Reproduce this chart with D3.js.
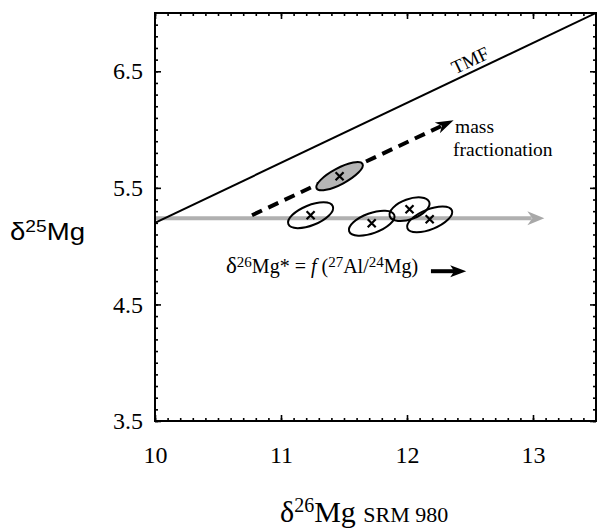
<!DOCTYPE html>
<html lang="en">
<head>
<meta charset="UTF-8">
<title>delta25Mg vs delta26Mg</title>
<script src="https://d3js.org/d3.v7.min.js"></script>
<style>
  body { margin: 0; background: #fff; }
  svg text { font-family: "Liberation Serif", "Times New Roman", serif; fill: #000; }
  .axis path { display: none; }
  .axis line { stroke: #000; stroke-width: 1.6; }
</style>
</head>
<body>
<div id="chart"></div>
<script>
// axis ticks
const xMajor = [10, 11, 12, 13];
const yMajor = [3.5, 4.5, 5.5, 6.5];
const xMinor = d3.range(100, 135).map(d => d / 10);
const yMinor = d3.range(35, 70).map(d => d / 10);

// terrestrial mass fractionation line
const tmfX = [10, 13.5];
const tmfY = [5.2, 7.0];

// mass fractionation (dashed) arrow
const fracX = [10.77, 12.37];
const fracY = [5.265, 6.08];

// grey horizontal arrow
const baseX = [10, 13.09];
const baseY = [5.24, 5.24];

// measured spots (centres)
const spotX = [11.465, 11.235, 11.72, 12.02, 12.18];
const spotY = [5.60, 5.265, 5.197, 5.317, 5.23];
const spotFilled = [true, false, false, false, false];

// small arrow next to the equation
const eqArrowX = [12.19, 12.47];
const eqArrowY = [4.785, 4.785];

const W = 597, H = 529;
const svg = d3.select("#chart").append("svg")
  .attr("width", W).attr("height", H);

const x = d3.scaleLinear().domain([10, 13.5]).range([155, 596]);
const y = d3.scaleLinear().domain([3.5, 7.0]).range([421, 13]);

const defs = svg.append("defs");
defs.append("clipPath").attr("id", "plotclip")
  .append("rect").attr("x", 155).attr("y", 13).attr("width", 441).attr("height", 408);

const plot = svg.append("g").attr("clip-path", "url(#plotclip)");
const line = d3.line().x(d => x(d[0])).y(d => y(d[1]));

// grey arrow
plot.append("path")
  .attr("d", line([[baseX[0], baseY[0]], [baseX[1] - 0.1, baseY[1]]]))
  .attr("stroke", "#b0b0b0").attr("stroke-width", 4).attr("fill", "none");
{
  const tx = x(baseX[1]), ty = y(baseY[1]);
  plot.append("path")
    .attr("d", `M${tx},${ty} L${tx - 17},${ty - 7} L${tx - 12},${ty} L${tx - 17},${ty + 7} Z`)
    .attr("fill", "#a8a8a8");
}

// TMF line
plot.append("path")
  .attr("d", line(tmfX.map((d, i) => [d, tmfY[i]])))
  .attr("stroke", "#000").attr("stroke-width", 2).attr("fill", "none");

// dashed mass fractionation arrow
{
  const x0 = x(fracX[0]), y0 = y(fracY[0]), x1 = x(fracX[1]), y1 = y(fracY[1]);
  const ang = Math.atan2(y1 - y0, x1 - x0);
  const L = 18, ux = Math.cos(ang), uy = Math.sin(ang);
  plot.append("line")
    .attr("x1", x0).attr("y1", y0)
    .attr("x2", x1 - ux * (L - 4)).attr("y2", y1 - uy * (L - 4))
    .attr("stroke", "#000").attr("stroke-width", 4)
    .attr("stroke-dasharray", "11,7");
  const bx = x1 - ux * L, by = y1 - uy * L;
  const nx = -uy, ny = ux;
  plot.append("path")
    .attr("d", `M${x1},${y1} L${bx + nx * 6},${by + ny * 6} L${x1 - ux * (L - 5)},${y1 - uy * (L - 5)} L${bx - nx * 6},${by - ny * 6} Z`)
    .attr("fill", "#000");
}

// spot ellipses
const spotSize = [[26, 8, -28], [24, 10, -22], [24, 10, -20], [21, 10, -20], [24, 10, -22]];
const spots = plot.selectAll("g.spot")
  .data(spotX.map((d, i) => ({ x: d, y: spotY[i], filled: spotFilled[i], s: spotSize[i] })))
  .join("g").attr("class", "spot")
  .attr("transform", d => `translate(${x(d.x)},${y(d.y)})`);

spots.append("ellipse")
  .attr("rx", d => d.s[0]).attr("ry", d => d.s[1])
  .attr("transform", d => `rotate(${d.s[2]})`)
  .attr("fill", d => d.filled ? "#b5b5b5" : "none")
  .attr("stroke", "#000").attr("stroke-width", 2);

spots.append("path")
  .attr("d", "M-4,-4L4,4M-4,4L4,-4")
  .attr("stroke", "#000").attr("stroke-width", 2.2);

// TMF label
{
  const lx = 475;
  const vx = x.invert(lx);
  const vy = tmfY[0] + (tmfY[1] - tmfY[0]) * (vx - tmfX[0]) / (tmfX[1] - tmfX[0]);
  const ang = Math.atan2(y(tmfY[1]) - y(tmfY[0]), x(tmfX[1]) - x(tmfX[0])) * 180 / Math.PI;
  svg.append("text")
    .attr("transform", `translate(${lx},${y(vy)}) rotate(${ang})`)
    .attr("dy", -5)
    .attr("text-anchor", "middle")
    .style("font-size", "19px")
    .text("TMF");
}

// mass fractionation label
svg.append("text").attr("x", 455).attr("y", 133).style("font-size", "19.5px").text("mass");
svg.append("text").attr("x", 453).attr("y", 156).style("font-size", "19.5px").text("fractionation");

// equation
{
  const t = svg.append("text").attr("x", 226).attr("y", 273).style("font-size", "20px");
  t.append("tspan").style("font-size", "23px").text("δ");
  t.append("tspan").attr("dy", -6).style("font-size", "15px").text("26");
  t.append("tspan").attr("dy", 6).text("Mg* = ");
  t.append("tspan").style("font-style", "italic").text("f");
  t.append("tspan").text(" (");
  t.append("tspan").attr("dy", -6).style("font-size", "15px").text("27");
  t.append("tspan").attr("dy", 6).text("Al/");
  t.append("tspan").attr("dy", -6).style("font-size", "15px").text("24");
  t.append("tspan").attr("dy", 6).text("Mg)");
}
{
  const x0 = x(eqArrowX[0]), x1 = x(eqArrowX[1]), yy = y(eqArrowY[0]);
  svg.append("line").attr("x1", x0).attr("y1", yy).attr("x2", x1 - 10).attr("y2", yy)
    .attr("stroke", "#000").attr("stroke-width", 4);
  svg.append("path")
    .attr("d", `M${x1},${yy} L${x1 - 16},${yy - 6} L${x1 - 12},${yy} L${x1 - 16},${yy + 6} Z`)
    .attr("fill", "#000");
}

// axes: minor ticks on all sides, major ticks with labels
const axes = svg.append("g");
function styleLabels(g) {
  g.selectAll("text")
    .style("font-family", "'Liberation Serif', 'Times New Roman', serif")
    .style("font-size", "24px")
    .attr("fill", "#000");
}
axes.append("g").attr("class", "axis").attr("transform", "translate(0,421)")
  .call(d3.axisBottom(x).tickValues(xMinor).tickSize(-3).tickFormat(""));
axes.append("g").attr("class", "axis").attr("transform", "translate(0,421)")
  .call(d3.axisBottom(x).tickValues(xMajor).tickSize(-6).tickPadding(25).tickFormat(d3.format("d")))
  .call(styleLabels);
axes.append("g").attr("class", "axis").attr("transform", "translate(0,13)")
  .call(d3.axisTop(x).tickValues(xMinor).tickSize(-3).tickFormat(""));
axes.append("g").attr("class", "axis").attr("transform", "translate(0,13)")
  .call(d3.axisTop(x).tickValues(xMajor).tickSize(-6).tickFormat(""));
axes.append("g").attr("class", "axis").attr("transform", "translate(155,0)")
  .call(d3.axisLeft(y).tickValues(yMinor).tickSize(-3).tickFormat(""));
axes.append("g").attr("class", "axis").attr("transform", "translate(155,0)")
  .call(d3.axisLeft(y).tickValues(yMajor).tickSize(-6).tickPadding(12).tickFormat(d3.format(".1f")))
  .call(styleLabels);
axes.append("g").attr("class", "axis").attr("transform", "translate(596,0)")
  .call(d3.axisRight(y).tickValues(yMinor).tickSize(-3).tickFormat(""));
axes.append("g").attr("class", "axis").attr("transform", "translate(596,0)")
  .call(d3.axisRight(y).tickValues(yMajor).tickSize(-6).tickFormat(""));

// frame
svg.append("rect").attr("x", 155).attr("y", 13).attr("width", 441).attr("height", 408)
  .attr("fill", "none").attr("stroke", "#000").attr("stroke-width", 2);

// axis titles
{
  const t = svg.append("text").attr("x", 10).attr("y", 240)
    .attr("textLength", 75).attr("lengthAdjust", "spacingAndGlyphs")
    .style("font-family", "'Liberation Sans', Arial, sans-serif").style("font-size", "23px");
  t.append("tspan").text("δ");
  t.append("tspan").attr("dy", -8).style("font-size", "16px").text("25");
  t.append("tspan").attr("dy", 8).text("Mg");
}
{
  const t = svg.append("text").attr("x", 280).attr("y", 522).style("font-size", "30px");
  t.append("tspan").text("δ");
  t.append("tspan").attr("dy", -10).style("font-size", "20px").text("26");
  t.append("tspan").attr("dy", 10).text("Mg ");
  t.append("tspan").style("font-size", "22px").text("SRM 980");
}
</script>
</body>
</html>
